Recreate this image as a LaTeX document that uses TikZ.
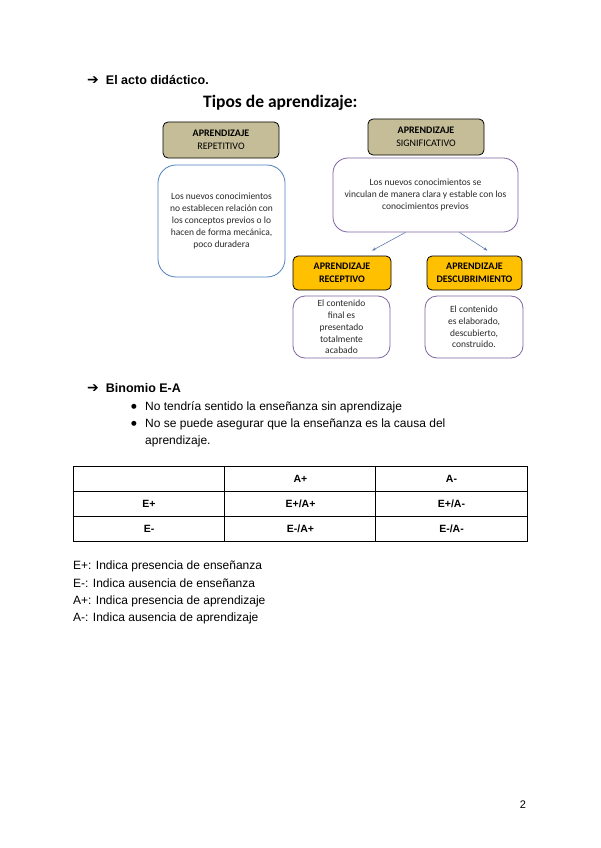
\documentclass[tikz,border=0pt]{standalone}
\usepackage{fontspec}
\setmainfont{Liberation Sans}
\newfontfamily\calibri{Carlito}
\newfontfamily\symfont{DejaVu Sans}
\usetikzlibrary{arrows.meta,positioning,calc}
\definecolor{tipotan}{RGB}{196,189,151}
\definecolor{tipogold}{RGB}{255,192,0}
\definecolor{tipoblue}{RGB}{79,129,189}
\definecolor{tipopurple}{RGB}{128,100,162}
\definecolor{linkblue}{RGB}{95,125,175}
\definecolor{tipotext}{RGB}{40,40,40}
\tikzset{typebox/.style={draw=black,thick,rounded corners=5pt,fill=tipotan,inner sep=0pt,align=center,
    font=\calibri\fontsize{10}{12.5}\selectfont},
  subbox/.style={typebox,fill=tipogold,font=\calibri\bfseries\fontsize{10}{12.5}\selectfont},
  descbox/.style={draw=tipopurple,thick,rounded corners=12pt,inner sep=0pt,align=center,text=tipotext,
    font=\calibri\fontsize{9.5}{11.8}\selectfont},
  link/.style={-{Stealth[length=4pt,width=3pt]},semithick,linkblue},
  heading/.style={anchor=west,inner sep=0pt,font=\bfseries\fontsize{12.5}{15}\selectfont},
  plain/.style={anchor=west,inner sep=0pt,font=\fontsize{12}{14}\selectfont},
  cell/.style={minimum width=151.33,minimum height=25,inner sep=0pt,
    font=\bfseries\fontsize{10.5}{12}\selectfont}}
\newcommand{\headarrow}{{\symfont\fontsize{14}{15}\selectfont ➔}\hspace{7pt}}
\newcommand{\itemdot}{{\symfont\fontsize{6.5}{8}\selectfont ●}}
\begin{document}
\begin{tikzpicture}[x=1pt,y=-1pt]
\fill[white] (0,0) rectangle (600,848);
\useasboundingbox (0,0) rectangle (600,848);
% el acto didactico
\node[heading] (acto) at (87,80) {\headarrow El acto didáctico.};
\node[anchor=west,inner sep=0pt,font=\calibri\bfseries\fontsize{17.5}{20}\selectfont] (tipos) at (203,103) {Tipos de aprendizaje:};
\node[typebox,minimum width=116,minimum height=36] (repet) at (221,140) {\textbf{APRENDIZAJE}\\REPETITIVO};
\node[typebox,minimum width=116,minimum height=36] (signif) at (426,137) {\textbf{APRENDIZAJE}\\SIGNIFICATIVO};
\node[descbox,draw=tipoblue,rounded corners=18pt,minimum width=127,minimum height=112] (repdesc) at (221.5,221)
  {Los nuevos conocimientos\\no establecen relación con\\los conceptos previos o lo\\hacen de forma mecánica,\\poco duradera};
\node[descbox,rounded corners=15pt,minimum width=185,minimum height=74] (sigdesc) at (425.5,195)
  {Los nuevos conocimientos se\\vinculan de manera clara y estable con los\\conocimientos previos};
\node[subbox,minimum width=98,minimum height=34] (recep) at (342,273) {APRENDIZAJE\\RECEPTIVO};
\node[subbox,minimum width=95,minimum height=34] (descub) at (474.5,273) {APRENDIZAJE\\DESCUBRIMIENTO};
\node[descbox,minimum width=97,minimum height=62] (recdesc) at (341.5,327) {El contenido\\final es\\presentado\\totalmente\\acabado};
\node[descbox,minimum width=98,minimum height=62] (desdesc) at (474,327) {El contenido\\es elaborado,\\descubierto,\\construido.};
\draw[link] ($(sigdesc.south)+(-20,0)$) -- ($(recep.north)+(30,-5)$);
\draw[link] ($(sigdesc.south)+(34,0)$) -- ($(descub.north)+(13,-5)$);
% binomio
\node[heading] (binomio) at (87,388) {\headarrow Binomio E-A};
\node[plain] (dot1) at (131,407) {\itemdot};
\node[plain] (item1) at (145,407) {No tendría sentido la enseñanza sin aprendizaje};
\node[plain] (dot2) at (131,424) {\itemdot};
\node[plain] (item2) at (145,424) {No se puede asegurar que la enseñanza es la causa del};
\node[plain] (item3) at (145,441) {aprendizaje.};
% tabla
\node[cell] (c11) at (149,478.5) {};
\node[cell] (c12) at (300.5,478.5) {A+};
\node[cell] (c13) at (451.5,478.5) {A-};
\node[cell] (c21) at (149,503.5) {E+};
\node[cell] (c22) at (300.5,503.5) {E+/A+};
\node[cell] (c23) at (451.5,503.5) {E+/A-};
\node[cell] (c31) at (149,528.5) {E-};
\node[cell] (c32) at (300.5,528.5) {E-/A+};
\node[cell] (c33) at (451.5,528.5) {E-/A-};
\draw[semithick] (c11.north west) rectangle (c33.south east);
\draw[semithick] (c11.south west) -- (c13.south east) (c21.south west) -- (c23.south east);
\draw[semithick] (c12.north west) -- (c32.south west) (c13.north west) -- (c33.south west);
% leyenda
\node[plain] (ley1) at (73,566) {E+: Indica presencia de enseñanza};
\node[plain] (ley2) at (73,583) {E-: Indica ausencia de enseñanza};
\node[plain] (ley3) at (73,601) {A+: Indica presencia de aprendizaje};
\node[plain] (ley4) at (73,618) {A-: Indica ausencia de aprendizaje};
\node[inner sep=0pt,font=\fontsize{11}{13}\selectfont] (pagina) at (523,805) {2};
\end{tikzpicture}
\end{document}
